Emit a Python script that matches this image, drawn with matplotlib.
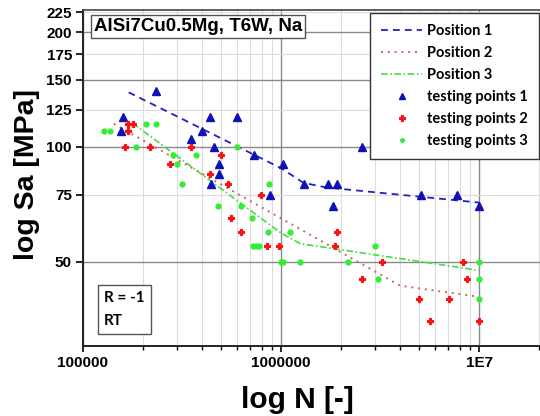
import numpy as np
import matplotlib
matplotlib.use("Agg")
import matplotlib.pyplot as plt
from matplotlib.ticker import FixedLocator, FixedFormatter, NullFormatter

plt.rcParams['font.family'] = ['Liberation Sans', 'DejaVu Sans']

# testing points (cycles N, stress amplitude Sa in MPa)
n_pts1 = [1.55e5, 1.59e5, 2.35e5, 3.5e5, 4.0e5, 4.4e5, 4.57e5, 4.84e5, 4.84e5, 4.45e5,
          6.0e5, 7.3e5, 8.8e5, 1.02e6, 1.3e6, 1.73e6, 1.92e6, 1.83e6, 2.56e6, 5.1e6,
          7.7e6, 1.0e7]
s_pts1 = [110, 120, 140, 105, 110, 120, 100, 90, 85, 80,
          120, 95, 75, 90, 80, 80, 80, 70, 100, 75,
          75, 70]

n_pts2 = [1.63e5, 1.68e5, 1.78e5, 1.69e5, 2.18e5, 2.76e5, 3.5e5, 4.4e5, 5.0e5, 5.43e5,
          7.9e5, 5.58e5, 6.27e5, 8.53e5, 9.8e5, 1.92e6, 1.88e6, 2.56e6, 3.23e6, 4.98e6,
          5.65e6, 7.05e6, 8.31e6, 8.71e6, 1.0e7]
s_pts2 = [100, 115, 115, 110, 100, 90, 100, 85, 95, 80,
          75, 65, 60, 55, 55, 60, 55, 45, 50, 40,
          35, 40, 50, 45, 35]

n_pts3 = [1.275e5, 1.37e5, 1.85e5, 2.09e5, 2.33e5, 2.85e5, 2.98e5, 3.16e5, 3.73e5, 5.98e5,
          4.78e5, 6.27e5, 7.13e5, 7.25e5, 7.5e5, 7.75e5, 8.6e5, 8.7e5, 1.11e6, 1.0e6,
          1.02e6, 1.25e6, 2.18e6, 2.97e6, 3.08e6, 1.0e7, 1.0e7, 1.0e7]
s_pts3 = [110, 110, 100, 115, 115, 95, 90, 80, 95, 100,
          70, 70, 65, 55, 55, 55, 60, 80, 60, 50,
          50, 50, 50, 55, 45, 50, 45, 40]

# fitted S-N curves
n_pos1 = [1.7e5, 1.0e6, 1.3e6, 1.7e6, 1.0e7]
s_pos1 = [139, 88, 80.5, 78.3, 71.5]
n_pos2 = [1.43e5, 4.0e6, 1.0e7]
s_pos2 = [115, 43.3, 40.5]
n_pos3 = [1.78e5, 1.0e6, 1.25e6, 1.0e7]
s_pos3 = [115.4, 59.5, 55.8, 47.5]

y_major = [50, 100, 150, 200]
y_minor = [75, 125, 175, 225]
x_major = [1e5, 1e6, 1e7]
x_labels = ['100000', '1000000', '1E7']

fig = plt.figure(figsize=(5.4, 4.16), dpi=100)
ax = fig.add_axes([83/540, 1-346/416, (546.8-83)/540, 336/416])
ax.set_xscale('log')
ax.set_yscale('log')
ax.set_xlim(1e5, 2.2e7)
ax.set_ylim(30.1, 228.4)

ax.plot(n_pos1, s_pos1, color='#2222bb', lw=1.3, ls=(0, (3.8, 2.8)), label='Position 1', zorder=3)
ax.plot(n_pos2, s_pos2, color='#c86464', lw=1.4, ls=(0, (1, 2.5)), label='Position 2', zorder=3)
ax.plot(n_pos3, s_pos3, color='#44dd44', lw=1.2, ls=(0, (4, 1.5, 1, 1.5)), label='Position 3', zorder=3)
ax.plot(n_pts1, s_pts1, ls='none', marker='^', ms=5.5, color='#1010b8', label='testing points 1', zorder=4)
ax.plot(n_pts2, s_pts2, ls='none', marker='P', ms=5, color='#ff1010', mec='#ff1010', mew=0.8,
        label='testing points 2', zorder=4)
ax.plot(n_pts3, s_pts3, ls='none', marker='o', ms=4.5, color='#33ee33', mew=0, label='testing points 3', zorder=4)

# ticks
ax.yaxis.set_major_locator(FixedLocator(y_major))
ax.yaxis.set_major_formatter(FixedFormatter([str(v) for v in y_major]))
ax.yaxis.set_minor_locator(FixedLocator(y_minor))
ax.yaxis.set_minor_formatter(FixedFormatter([str(v) for v in y_minor]))
ax.xaxis.set_major_locator(FixedLocator(x_major))
ax.xaxis.set_major_formatter(FixedFormatter(x_labels))
ax.xaxis.set_minor_formatter(NullFormatter())

ax.tick_params(axis='y', which='both', direction='out', length=5, width=1.2, pad=3,
               labelsize=11, right=False)
ax.tick_params(axis='x', which='major', direction='out', length=4, width=1.2, pad=3,
               labelsize=11, top=False)
ax.tick_params(axis='x', which='minor', direction='out', length=3, width=1.0, top=False)
for lab in ax.get_xticklabels() + ax.get_yticklabels(minor=False) + ax.get_yticklabels(minor=True):
    lab.set_fontweight('bold')

ax.grid(which='major', color='#8a8a8a', lw=1.0, zorder=0)
ax.grid(which='minor', color='#dcdcdc', lw=0.8, zorder=0)
ax.set_axisbelow(True)

for side in ['left', 'bottom']:
    ax.spines[side].set_linewidth(1.4)
    ax.spines[side].set_color('#222222')
ax.spines['top'].set_linewidth(1.2)
ax.spines['top'].set_color('#444444')

fig.text(27/540, 1-175/416, 'log Sa [MPa]', rotation=90, ha='center', va='center',
         fontsize=20.5, fontweight='bold')
fig.text(297/540, 1-400/416, 'log N [-]', ha='center', va='center',
         fontsize=21.5, fontweight='bold')

fig.text(94/540, 1-26.5/416, 'AlSi7Cu0.5Mg, T6W, Na', ha='left', va='center',
         fontsize=13.5, fontweight='bold',
         bbox=dict(boxstyle='square,pad=0.15', fc='white', ec='#555555', lw=1.0))

fig.text(104/540, 1-309.5/416, 'R = -1\nRT', ha='left', va='center', family=['Lato', 'DejaVu Sans'],
         fontsize=11, fontweight='bold', linespacing=1.85,
         bbox=dict(boxstyle='square,pad=0.4', fc='white', ec='#555555', lw=1.0))

leg = ax.legend(loc='upper right', bbox_to_anchor=(539/540, 1-13/416), bbox_transform=fig.transFigure,
                borderaxespad=0, fancybox=False, framealpha=1, edgecolor='#333333',
                prop={'family': ['Lato', 'DejaVu Sans'], 'weight': 'bold', 'size': 10.5},
                handlelength=2.8, handletextpad=0.35, labelspacing=0.55, borderpad=0.75,
                markerscale=0.8)
leg.get_frame().set_linewidth(1.0)
leg.set_zorder(10)

fig.savefig('out.png', dpi=100)
